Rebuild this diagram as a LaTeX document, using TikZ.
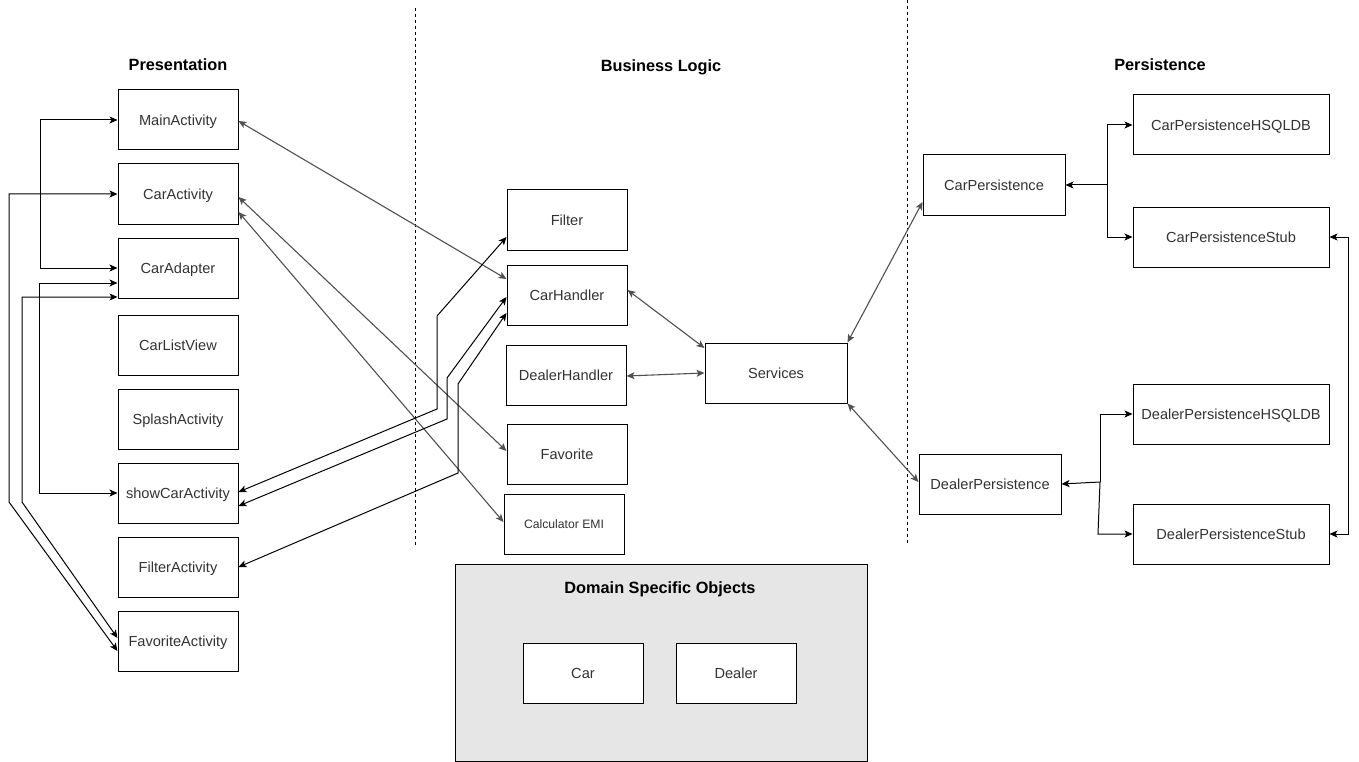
\documentclass[tikz,border=0pt]{standalone}
\usepackage{fontspec}
\setmainfont{Liberation Sans}
\usetikzlibrary{arrows.meta}
\definecolor{txt}{HTML}{333333}
\definecolor{edgegray}{HTML}{505050}
\definecolor{domfill}{HTML}{E6E6E6}
\tikzset{
  box/.style={draw=black, line width=1pt, fill=white, minimum width=120pt, minimum height=60pt, inner sep=0pt, text height=11.5pt, text depth=0pt, text=txt, font=\fontsize{14.6}{17}\selectfont},
  wide/.style={box, minimum width=142pt},
  wider/.style={box, minimum width=196pt},
  header/.style={font=\fontsize{16.3}{19}\selectfont\bfseries, text=black},
  conn/.style={line width=1pt, draw=black, {Stealth[length=8pt,width=7pt,inset=2pt]}-{Stealth[length=8pt,width=7pt,inset=2pt]}},
  one/.style={line width=1pt, draw=black, -{Stealth[length=8pt,width=7pt,inset=2pt]}},
  grayconn/.style={conn, draw=edgegray, line width=1.1pt},
  sep/.style={line width=0.8pt, dash pattern=on 3pt off 3pt}
}
\begin{document}
\begin{tikzpicture}[x=1pt, y=-1pt]
\useasboundingbox (0,0) rectangle (1359,762);
% separators
\draw[sep] (415,8) -- (415,545);
\draw[sep] (907,0) -- (907,545);
% headers
\node[header] (hpres) at (178,65) {Presentation};
\node[header] (hbus) at (661,67) {Business Logic};
\node[header] (hper) at (1160,65) {Persistence};
% domain box
\node[draw=black, line width=1pt, fill=domfill, minimum width=412pt, minimum height=197pt, inner sep=0pt] (domain) at (661,662.5) {};
\node[header] (domtitle) at (660,589) {Domain Specific Objects};
\node[box] (car) at (583,673) {Car};
\node[box] (dealer) at (736,673) {Dealer};
% presentation
\node[box] (main) at (178,120) {MainActivity};
\node[box] (carAct) at (178,194) {CarActivity};
\node[box] (carAdapter) at (178,268) {CarAdapter};
\node[box] (carList) at (178,345) {CarListView};
\node[box] (splash) at (178,419) {SplashActivity};
\node[box] (showCar) at (178,493) {showCarActivity};
\node[box] (filterAct) at (178,567) {FilterActivity};
\node[box] (favAct) at (178,641) {FavoriteActivity};
% business logic
\node[box] (filter) at (567,220) {Filter};
\node[box] (carH) at (567,295) {CarHandler};
\node[box] (dealerH) at (566,375) {DealerHandler};
\node[box] (fav) at (567,454) {Favorite};
\node[box, font=\fontsize{12.2}{14}\selectfont, text height=9.5pt] (calc) at (564,524) {Calculator EMI};
\node[wide] (services) at (776,373) {Services};
% persistence
\node[wide] (carP) at (994,185) {CarPersistence};
\node[wider] (carPH) at (1231,125) {CarPersistenceHSQLDB};
\node[wider] (carPS) at (1231,237) {CarPersistenceStub};
\node[wide] (dealerP) at (990,484) {DealerPersistence};
\node[wider] (dealerPH) at (1231,414) {DealerPersistenceHSQLDB};
\node[wider] (dealerPS) at (1231,534) {DealerPersistenceStub};
% left bus connectors
\draw[conn] (main.west) -- (40,120) -- (40,268) -- (carAdapter.west);
\draw[conn] ([yshift=-15pt]carAdapter.west) -- (39,283) -- (39,493) -- (showCar.west);
\draw[conn] (carAct.west) -- (9,194) -- (9,502) -- ([yshift=-10pt]favAct.west);
\draw[conn] ([yshift=-29pt]carAdapter.west) -- (22,297) -- (22,502) -- ([yshift=3pt]favAct.west);
% presentation <-> business (gray)
\draw[grayconn] ([yshift=-1pt]main.east) -- ([yshift=16pt]carH.west);
\draw[grayconn] ([yshift=-3pt]carAct.east) -- ([yshift=3pt]fav.west);
\draw[grayconn] ([yshift=-18pt]carAct.east) -- ([yshift=2pt]calc.west);
% presentation <-> business (black, bent)
\draw[conn] ([yshift=1pt]showCar.east) -- (437,409) -- (437,316) -- ([yshift=-17pt]filter.west);
\draw[conn] ([yshift=-13pt]showCar.east) -- (447,419) -- (447,378) -- ([yshift=-2pt]carH.west);
\draw[conn] (filterAct.east) -- (458,473) -- (458,384) -- ([yshift=-18pt]carH.west);
% business <-> services
\draw[grayconn] ([yshift=5pt]carH.east) -- ([yshift=25pt]services.west);
\draw[grayconn] ([yshift=-1pt]dealerH.east) -- (services.west);
% services <-> persistence
\draw[grayconn] (services.north east) -- ([yshift=-17pt]carP.west);
\draw[grayconn] (services.south east) -- ([yshift=2pt]dealerP.west);
% car persistence fan
\coordinate (cj) at (1107,185);
\draw[one] (cj) -- (carP.east);
\draw[one] (cj) |- (carPH.west);
\draw[one] (cj) |- (carPS.west);
% dealer persistence fan
\coordinate (dj) at (1100,482);
\draw[one] (dj) -- (dealerP.east);
\draw[one] (dj) |- (dealerPH.west);
\draw[one] (dj) -- (1098,534) -- (dealerPS.west);
% stub link
\draw[conn] (carPS.east) -- (1348,237) -- (1348,534) -- (dealerPS.east);
\end{tikzpicture}
\end{document}
